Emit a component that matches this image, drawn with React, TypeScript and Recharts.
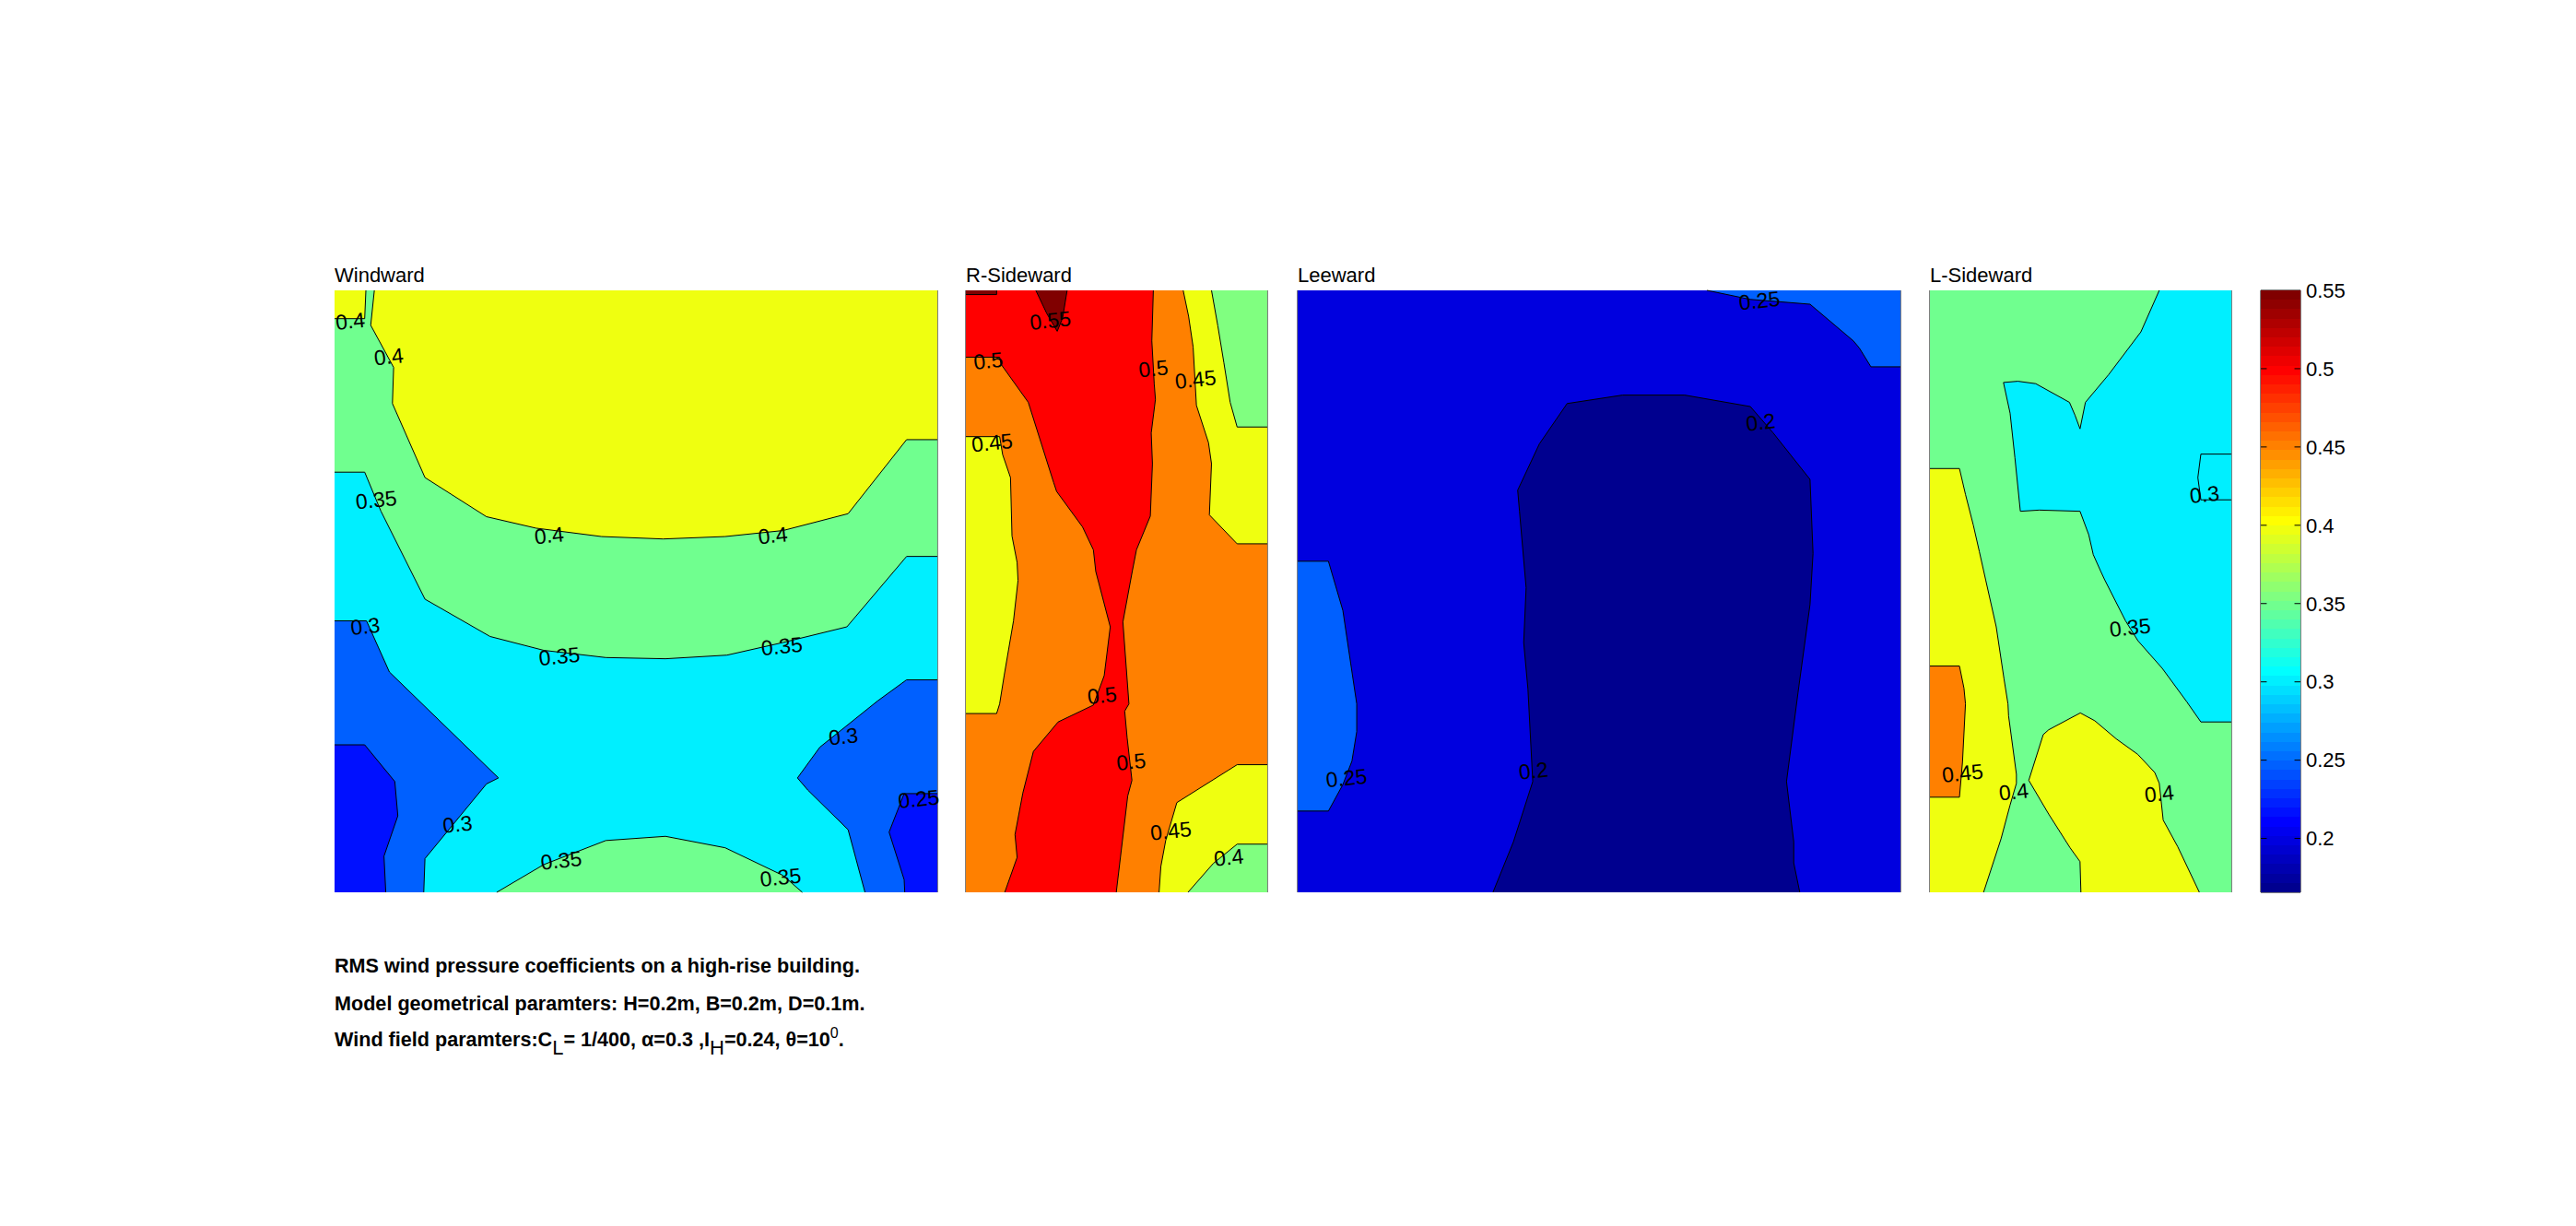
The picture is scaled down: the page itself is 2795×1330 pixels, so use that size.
import React from "react";
import { ScatterChart, Scatter, XAxis, YAxis, ReferenceLine } from "recharts";

type Pt = { x: number; y: number };
type Lab = { x: number; y: number; text: string };

const BLUE0 = "#00008F", BLUE1 = "#0000DF", BLUE2 = "#0010FF", BLUE3 = "#0060FF";
const CYAN = "#00EFFF", GREEN = "#70FF8F", GREEN2 = "#80FF80", YELLOW = "#EFFF10";
const ORANGE = "#FF8000", RED = "#FF0000", DARK = "#800000";

const p = (...v: number[]): Pt[] => {
  const out: Pt[] = [];
  for (let i = 0; i < v.length; i += 2) out.push({ x: v[i], y: v[i + 1] });
  return out;
};
const FULL = p(0, 0, 100, 0, 100, 100, 0, 100);

// Windward face: contour bands, x = % of width, y = % of height from the top
const wGreenMain = p(0,0, 100,0, 100,44.2, 94.9,44.2, 85,55.9, 74.4,58.5, 65.1,60.6, 54.9,61.2, 45,61, 34.7,59.8, 25.8,57.5, 15,51.3, 7.7,36.7, 5,30.2, 0,30.2);
const wYellowMain = p(6.6,0, 6,5.8, 9.8,12.8, 9.6,18.8, 15,31.1, 25.2,37.6, 33.4,39.5, 44.3,40.9, 54.5,41.3, 64.8,40.9, 74.4,39.9, 85.2,37.1, 94.9,24.8, 100,24.8, 100,0);
const wYellowCorner = p(0,0, 5.2,0, 5,4.7, 0,4.7);
const wBlueLeft = p(0,54.9, 5.3,54.9, 9.1,63.4, 27.2,81, 25.2,82, 15,94.4, 14.8,100, 0,100);
const wDeepLeft = p(0,75.5, 5,75.5, 10,81.6, 10.5,87.3, 8.2,94, 8.5,100, 0,100);
const wBlueRight = p(100,64.7, 94.9,64.7, 90.1,68.2, 80.5,75.9, 76.8,81, 78.5,83, 85.2,89.6, 88,100, 100,100);
const wDeepRight = p(100,83.6, 94.5,83.6, 92,90, 94.5,97.9, 94.6,100, 100,100);
const wGreenBottom = p(26.9,100, 34.7,95.4, 45,91.4, 54.9,90.7, 64.8,92.6, 74.4,97.2, 77.6,100);
const wLabels: Lab[] = [
  { x: 2.6, y: 5.1, text: "0.4" }, { x: 9, y: 11, text: "0.4" }, { x: 6.9, y: 34.8, text: "0.35" },
  { x: 35.6, y: 40.7, text: "0.4" }, { x: 72.7, y: 40.7, text: "0.4" }, { x: 5.1, y: 55.8, text: "0.3" },
  { x: 37.3, y: 60.8, text: "0.35" }, { x: 74.2, y: 59.1, text: "0.35" }, { x: 84.4, y: 74.1, text: "0.3" },
  { x: 20.4, y: 88.7, text: "0.3" }, { x: 96.9, y: 84.5, text: "0.25" }, { x: 37.6, y: 94.7, text: "0.35" },
  { x: 74, y: 97.5, text: "0.35" },
];

// R-Sideward face
const rRed = p(0,0, 62.2,0, 61.7,8.4, 62.5,15.6, 62.9,18.1, 61.5,23.7, 61.9,28.8, 61.2,37.5, 56.6,43.1, 55.2,46.7, 52.1,55.1, 54.1,68.7, 52.7,69.9, 53.5,74.3, 55.1,81.4, 53.7,84, 49.9,100, 12.9,100, 17,94.2, 16.3,90.4, 18.9,83.5, 22.4,76.6, 30.6,71.7, 42.3,68.9, 45.9,64, 47.9,55.9, 43.1,46.7, 42.3,43.1, 38.7,39.3, 30.1,33.4, 29.1,31.9, 20.7,18.6, 11.7,12.3, 11.2,11.1, 0,11.1);
const rDarkPeak = p(23.2,0, 33.6,0, 32.1,4.6, 30.3,6.8, 26.8,3.8);
const rDarkCorner = p(0,0, 10.2,0, 10.2,0.7, 0,0.7);
const rYellowLeft = p(0,24.3, 11.2,24.3, 12.2,27.3, 14.8,31.1, 15.3,40.8, 17,45.2, 17.3,48.2, 15.8,54.9, 12.7,64, 11.2,68.7, 10.2,70.3, 0,70.3);
const rYellowTop = p(72.1,0, 73.9,4.3, 75.4,9.4, 76.5,19.1, 80.5,25.3, 81.5,28.8, 80.8,37.3, 90,42.1, 100,42.1, 100,0);
const rGreenTop = p(81.5,0, 83.6,5.9, 85.6,12, 87.7,18.6, 90,22.7, 100,22.7, 100,0);
const rYellowBottom = p(100,78.8, 90,78.8, 70,85.1, 66.3,91.4, 64.7,95.7, 64.1,100, 100,100);
const rGreenBottom = p(100,92, 90,92, 82.1,95.2, 73.7,100, 100,100);
const rLabels: Lab[] = [
  { x: 28, y: 5, text: "0.55" }, { x: 7.4, y: 11.7, text: "0.5" }, { x: 62.2, y: 13, text: "0.5" },
  { x: 76.2, y: 14.8, text: "0.45" }, { x: 8.7, y: 25.3, text: "0.45" }, { x: 45.2, y: 67.3, text: "0.5" },
  { x: 54.8, y: 78.3, text: "0.5" }, { x: 68, y: 89.8, text: "0.45" }, { x: 87.2, y: 94.2, text: "0.4" },
];

// Leeward face
const lNavy = p(32.4,100, 35.8,91.6, 39,81.6, 38.2,66.2, 37.5,58.5, 37.9,49.4, 36.8,36.7, 36.5,33.2, 40.1,25.5, 44.7,18.8, 53.9,17.4, 64.2,17.4, 75.1,19.3, 78.9,23.7, 85,31.4, 85.5,43.7, 85,52.2, 83,66.9, 81.1,81.6, 82.3,91.6, 82.3,95.1, 83.3,100);
const lBlueLeft = p(0,45, 5.1,45, 7.5,53.2, 8.8,62, 9.8,68.7, 9.8,73.3, 9,78.2, 7.5,82.1, 5.1,86.5, 0,86.5);
const lBlueTop = p(67.9,0, 75.1,1.5, 85,2.3, 92.2,8.4, 93.2,9.6, 95.1,12.7, 100,12.7, 100,0);
const lLabels: Lab[] = [
  { x: 76.6, y: 1.7, text: "0.25" }, { x: 76.8, y: 21.9, text: "0.2" },
  { x: 8.1, y: 81, text: "0.25" }, { x: 39.1, y: 79.8, text: "0.2" },
];

// L-Sideward face
const sCyan = p(76.1,0, 70,6.9, 59.3,14, 51.6,18.6, 49.8,23, 48.1,20.7, 46.3,18.6, 35.1,15.5, 29.2,15.1, 24.4,15.3, 26.6,20.4, 28.2,27.8, 30,36.7, 36.3,36.5, 49.8,36.7, 52.7,40.6, 54.2,43.9, 56.7,46.7, 58,48.1, 64.9,54.9, 69,58.2, 77.1,62.8, 85.3,68.4, 89.9,71.7, 100,71.7, 100,0);
const sCyanInner = p(100,27.2, 89.9,27.2, 88.9,31.1, 89.9,34.8, 100,34.8);
const sYellowLeft = p(0,29.6, 9.8,29.6, 11.8,33.9, 14.4,39, 16.4,43.4, 18.5,48.1, 22,55.9, 24.6,64.6, 25.9,68.7, 26.1,70.7, 28.7,80.4, 28.7,81.9, 26.6,85.5, 23.6,91.1, 17.8,100, 0,100);
const sOrange = p(0,62.4, 9.8,62.4, 11.3,66.1, 11.8,68.7, 10.8,78.4, 9.8,84.2, 0,84.2);
const sYellowCentre = p(32.8,81.4, 37.6,73.8, 39.4,73, 49.9,70.2, 54.7,71.5, 61.8,74.5, 69,77.1, 74.6,80.1, 76.1,81.9, 77.4,88, 82.2,92.4, 89.4,100, 50.1,100, 49.8,94.9, 46.5,92.6, 39.4,87);
const sLabels: Lab[] = [
  { x: 91.1, y: 33.9, text: "0.3" }, { x: 66.4, y: 56, text: "0.35" }, { x: 10.8, y: 80.2, text: "0.45" },
  { x: 27.8, y: 83.3, text: "0.4" }, { x: 76.1, y: 83.6, text: "0.4" },
];

// Colour bar
const jet = [
  "#00008F","#00009F","#0000AF","#0000BF","#0000CF","#0000DF","#0000EF","#0000FF",
  "#0010FF","#0020FF","#0030FF","#0040FF","#0050FF","#0060FF","#0070FF","#0080FF",
  "#008FFF","#009FFF","#00AFFF","#00BFFF","#00CFFF","#00DFFF","#00EFFF","#00FFFF",
  "#10FFEF","#20FFDF","#30FFCF","#40FFBF","#50FFAF","#60FF9F","#70FF8F","#80FF80",
  "#8FFF70","#9FFF60","#AFFF50","#BFFF40","#CFFF30","#DFFF20","#EFFF10","#FFFF00",
  "#FFEF00","#FFDF00","#FFCF00","#FFBF00","#FFAF00","#FF9F00","#FF8F00","#FF8000",
  "#FF7000","#FF6000","#FF5000","#FF4000","#FF3000","#FF2000","#FF1000","#FF0000",
  "#EF0000","#DF0000","#CF0000","#BF0000","#AF0000","#9F0000","#8F0000","#800000",
];
const barTicks = [0.2, 0.25, 0.3, 0.35, 0.4, 0.45, 0.5, 0.55];
const BAR_MIN = 0.1656, BAR_MAX = 0.55;

const FONT = '"Liberation Sans", Arial, sans-serif';
const M = 30;
const TOP = 315, H = 653;

const NoMark = () => <g />;

const LabelMark = (props: any) => {
  const { cx, cy, payload } = props;
  return (
    <text x={cx} y={cy} textAnchor="middle" dominantBaseline="central" fontFamily={FONT} fontSize={23}
      fill="#000" transform={`rotate(-6 ${cx} ${cy})`}>
      {payload.text}
    </text>
  );
};

const onBorder = (a: Pt, b: Pt) =>
  (a.x === b.x && (a.x === 0 || a.x === 100)) || (a.y === b.y && (a.y === 0 || a.y === 100));

const regionLine = (pts: Pt[], fill: string, outline: boolean) => (line: any) => {
  const xy: { x: number; y: number }[] = line.points;
  const fillD = xy.map((q, i) => `${i ? "L" : "M"}${q.x} ${q.y}`).join("") + "Z";
  let strokeD = "";
  let down = false;
  xy.forEach((q, i) => {
    const n = (i + 1) % xy.length;
    if (onBorder(pts[i], pts[n])) { down = false; return; }
    if (!down) strokeD += `M${q.x} ${q.y}`;
    strokeD += `L${xy[n].x} ${xy[n].y}`;
    down = true;
  });
  return (
    <g>
      <path d={fillD} fill={fill} stroke="none" shapeRendering={outline ? undefined : "crispEdges"} />
      {outline && strokeD ? <path d={strokeD} fill="none" stroke="#000" strokeWidth={1} /> : null}
    </g>
  );
};

type Band = [Pt[], string];

function Panel({ title, left, width, bands, labels, edges }: { title: string; left: number; width: number; bands: Band[]; labels: Lab[]; edges: number[] }) {
  return (
    <>
      <div style={{ position: "absolute", left, top: TOP - 29, fontFamily: FONT, fontSize: 22, lineHeight: "26px", color: "#000" }}>{title}</div>
      <div style={{ position: "absolute", left: left - M, top: TOP - M }}>
        <ScatterChart width={width + 2 * M} height={H + 2 * M} margin={{ top: M, right: M, bottom: M, left: M }}>
          <XAxis type="number" dataKey="x" domain={[0, 100]} hide />
          <YAxis type="number" dataKey="y" domain={[0, 100]} reversed hide />
          {bands.map(([pts, fill], i) => (
            <Scatter key={i} data={pts} isAnimationActive={false} shape={NoMark} legendType="none"
              line={regionLine(pts, fill, true)} />
          ))}
          {edges.map((e) => (
            <ReferenceLine key={e} x={e} stroke="#000" strokeWidth={1} />
          ))}
          <Scatter data={labels} isAnimationActive={false} shape={LabelMark} legendType="none" />
        </ScatterChart>
      </div>
    </>
  );
}

function ColourBar() {
  const left = 2453, width = 43;
  const step = (BAR_MAX - BAR_MIN) / jet.length;
  return (
    <div style={{ position: "absolute", left: left - M, top: TOP - M }}>
      <ScatterChart width={width + M + 70} height={H + 2 * M} margin={{ top: M, right: 0, bottom: M, left: M }}>
        <XAxis type="number" dataKey="x" domain={[0, 1]} hide />
        <YAxis type="number" dataKey="y" orientation="right" width={70} domain={[BAR_MIN, BAR_MAX]} ticks={barTicks}
          interval={0} axisLine={false} tickLine={false} tickMargin={0} allowDataOverflow
          tick={{ fill: "#000", fontFamily: FONT, fontSize: 22, textAnchor: "start" }} />
        {jet.map((c, i) => {
          const lo = BAR_MIN + i * step, hi = lo + step;
          const pts = [{ x: 0, y: lo }, { x: 1, y: lo }, { x: 1, y: hi }, { x: 0, y: hi }];
          return <Scatter key={c} data={pts} isAnimationActive={false} shape={NoMark} legendType="none" line={regionLine(pts, c, false)} />;
        })}
        {barTicks.slice(0, -1).map((t) => (
          <Scatter key={`l${t}`} data={[{ x: 0, y: t }, { x: 0.15, y: t }]} isAnimationActive={false} shape={NoMark} legendType="none" line={{ stroke: "#000", strokeWidth: 1 }} />
        ))}
        {barTicks.slice(0, -1).map((t) => (
          <Scatter key={`r${t}`} data={[{ x: 0.85, y: t }, { x: 1, y: t }]} isAnimationActive={false} shape={NoMark} legendType="none" line={{ stroke: "#000", strokeWidth: 1 }} />
        ))}
        <ReferenceLine x={0} stroke="#000" strokeWidth={1} />
        <ReferenceLine x={1} stroke="#000" strokeWidth={1} />
        <ReferenceLine y={BAR_MIN} stroke="#000" strokeWidth={1} />
        <ReferenceLine y={BAR_MAX} stroke="#000" strokeWidth={1} />
      </ScatterChart>
    </div>
  );
}

const noteStyle: React.CSSProperties = { position: "absolute", left: 363, fontFamily: FONT, fontWeight: 700, fontSize: 21.6, lineHeight: "24px", color: "#000", whiteSpace: "nowrap" };
const subStyle: React.CSSProperties = { fontWeight: 400, fontSize: 22, position: "relative", top: 9, verticalAlign: "baseline", lineHeight: 0 };
const supStyle: React.CSSProperties = { fontWeight: 400, fontSize: 16, position: "relative", top: -9, verticalAlign: "baseline", lineHeight: 0 };

export default function App() {
  return (
    <div style={{ position: "absolute", left: 0, top: 0, width: 2795, height: 1330, background: "#fff", overflow: "hidden" }}>
      <Panel title="Windward" left={363} width={654} edges={[100]} labels={wLabels}
        bands={[[FULL, CYAN], [wGreenMain, GREEN], [wYellowMain, YELLOW], [wYellowCorner, YELLOW], [wBlueLeft, BLUE3], [wDeepLeft, BLUE2], [wBlueRight, BLUE3], [wDeepRight, BLUE2], [wGreenBottom, GREEN]]} />
      <Panel title="R-Sideward" left={1048} width={327} edges={[0, 100]} labels={rLabels}
        bands={[[FULL, ORANGE], [rRed, RED], [rDarkPeak, DARK], [rDarkCorner, DARK], [rYellowLeft, YELLOW], [rYellowTop, YELLOW], [rGreenTop, GREEN2], [rYellowBottom, YELLOW], [rGreenBottom, GREEN2]]} />
      <Panel title="Leeward" left={1408} width={654} edges={[0, 100]} labels={lLabels}
        bands={[[FULL, BLUE1], [lNavy, BLUE0], [lBlueLeft, BLUE3], [lBlueTop, BLUE3]]} />
      <Panel title="L-Sideward" left={2094} width={327} edges={[0, 100]} labels={sLabels}
        bands={[[FULL, GREEN], [sCyan, CYAN], [sCyanInner, CYAN], [sYellowLeft, YELLOW], [sOrange, ORANGE], [sYellowCentre, YELLOW]]} />
      <ColourBar />
      <div style={{ ...noteStyle, top: 1036 }}>RMS wind pressure coefficients on a high-rise building.</div>
      <div style={{ ...noteStyle, top: 1077 }}>Model geometrical paramters: H=0.2m, B=0.2m, D=0.1m.</div>
      <div style={{ ...noteStyle, top: 1116 }}>
        Wind field paramters:C<span style={subStyle}>L</span>= 1/400, α=0.3 ,I<span style={subStyle}>H</span>=0.24, θ=10<span style={supStyle}>0</span>.
      </div>
    </div>
  );
}
